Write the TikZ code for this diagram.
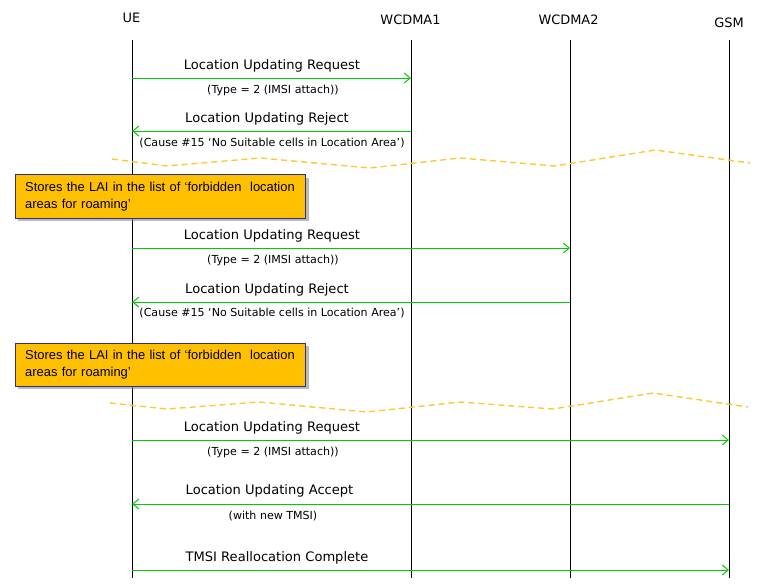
\documentclass[tikz,border=0pt]{standalone}
\usepackage{fontspec}
\setmainfont{DejaVu Sans}
\newfontfamily\boxfont{Liberation Sans}
\usetikzlibrary{arrows.meta,shadows}
\definecolor{msggreen}{RGB}{0,204,0}
\definecolor{boxorange}{RGB}{255,192,0}
\definecolor{boxborder}{RGB}{45,45,140}
\definecolor{wavecol}{RGB}{255,200,50}
\tikzset{
  head/.style={font=\fontsize{9.7}{11}\selectfont, inner sep=0pt},
  life/.style={black, line width=0.75pt},
  msg/.style={msggreen, line width=0.75pt, -{Straight Barb[length=4.5pt,width=7.5pt]}},
  lbl/.style={font=\fontsize{9.8}{11}\selectfont, inner sep=0pt, anchor=base},
  sublbl/.style={font=\fontsize{8.3}{10}\selectfont, inner sep=0pt, anchor=base},
  notebox/.style={draw=boxborder, fill=boxorange, line width=0.75pt,
    font=\boxfont\fontsize{9.7}{12.8}\selectfont, align=left,
    text width=203pt, inner xsep=7.5pt, inner ysep=0pt,
    minimum height=32.5pt,
    drop shadow={shadow xshift=2pt, shadow yshift=-2pt, fill=black!45, opacity=0.6}},
  wave/.style={wavecol, line width=1.05pt, dash pattern=on 4.5pt off 3pt}
}
\begin{document}
\begin{tikzpicture}[x=0.75pt,y=-0.75pt]
\useasboundingbox (0,0) rectangle (764,583);
% headers
\node[head] (ue) at (131.5,17.5) {UE};
\node[head] (w1) at (410.5,19.5) {WCDMA1};
\node[head] (w2) at (568.5,19.5) {WCDMA2};
\node[head] (gsm) at (729,22.5) {GSM};
% lifelines
\coordinate (ueT) at (132,40);  \coordinate (ueB) at (132,578);
\coordinate (w1T) at (411,40);  \coordinate (w1B) at (411,578);
\coordinate (w2T) at (570,40);  \coordinate (w2B) at (570,578);
\coordinate (gsT) at (729,40);  \coordinate (gsB) at (729,578);
\draw[life] (ueT) -- (ueB);
\draw[life] (w1T) -- (w1B);
\draw[life] (w2T) -- (w2B);
\draw[life] (gsT) -- (gsB);
% message 1
\coordinate (m1a) at (ueT |- 0,78);  \coordinate (m1b) at (w1T |- 0,78);
\draw[msg] (m1a) -- (m1b);
\node[lbl] (l1) at (272,69) {Location Updating Request};
\node[sublbl] (s1) at (273,93) {(Type = 2 (IMSI attach))};
% message 2
\coordinate (m2a) at (w1T |- 0,131);  \coordinate (m2b) at (ueT |- 0,131);
\draw[msg] (m2a) -- (m2b);
\node[lbl] (l2) at (267,122.5) {Location Updating Reject};
\node[sublbl] (s2) at (272,146) {(Cause \#15 ‘No Suitable cells in Location Area’)};
% wave 1
\draw[wave] (112,159) -- (167,166) -- (260,158) -- (370,168) -- (460,158) -- (555,166) -- (655,150) -- (750,163);
% note 1
\node[notebox] (n1) at (160.5,196.5) {Stores the LAI in the list of ‘forbidden\ \ location\\areas for roaming’};
% message 3
\coordinate (m3a) at (ueT |- 0,248);  \coordinate (m3b) at (w2T |- 0,248);
\draw[msg] (m3a) -- (m3b);
\node[lbl] (l3) at (272,239) {Location Updating Request};
\node[sublbl] (s3) at (273,263.5) {(Type = 2 (IMSI attach))};
% message 4
\coordinate (m4a) at (w2T |- 0,302);  \coordinate (m4b) at (ueT |- 0,302);
\draw[msg] (m4a) -- (m4b);
\node[lbl] (l4) at (267,293.5) {Location Updating Reject};
\node[sublbl] (s4) at (272,316.5) {(Cause \#15 ‘No Suitable cells in Location Area’)};
% note 2
\node[notebox] (n2) at (160.5,365) {Stores the LAI in the list of ‘forbidden\ \ location\\areas for roaming’};
% wave 2
\draw[wave] (110,403) -- (167,409) -- (259,402) -- (367,412) -- (460,402) -- (553,409) -- (653,393) -- (748,407);
% message 5
\coordinate (m5a) at (ueT |- 0,440);  \coordinate (m5b) at (gsT |- 0,440);
\draw[msg] (m5a) -- (m5b);
\node[lbl] (l5) at (272,431.5) {Location Updating Request};
\node[sublbl] (s5) at (273,455.5) {(Type = 2 (IMSI attach))};
% message 6
\coordinate (m6a) at (gsT |- 0,504);  \coordinate (m6b) at (ueT |- 0,504);
\draw[msg] (m6a) -- (m6b);
\node[lbl] (l6) at (269.5,494) {Location Updating Accept};
\node[sublbl] (s6) at (273,519.5) {(with new TMSI)};
% message 7
\coordinate (m7a) at (ueT |- 0,570);  \coordinate (m7b) at (gsT |- 0,570);
\draw[msg] (m7a) -- (m7b);
\node[lbl] (l7) at (277,561) {TMSI Reallocation Complete};
\end{tikzpicture}
\end{document}
